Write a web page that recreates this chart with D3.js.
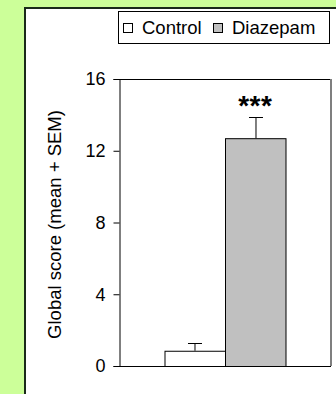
<!DOCTYPE html>
<html>
<head>
<meta charset="utf-8">
<script src="https://cdn.jsdelivr.net/npm/d3@7"></script>
<style>
  html, body { margin: 0; padding: 0; background: #ccff99; }
  svg { display: block; font-family: Arial, "Liberation Sans", sans-serif; }
</style>
</head>
<body>
<div id="chart"></div>
<script>
// Data
const groups = [''];
const series = ['Control', 'Diazepam'];
const means = [0.85, 12.7];
const sems = [0.42, 1.17];
const fills = ['#ffffff', '#c0c0c0'];
const yTicks = [0, 4, 8, 12, 16];
const signif = '***';

const W = 336, H = 394;
const margin = { top: 79, right: 5, bottom: 28, left: 119 };

const svg = d3.select('#chart').append('svg')
  .attr('width', W)
  .attr('height', H);

// white panel with dark left/top edge
svg.append('rect')
  .attr('x', 24).attr('y', 7)
  .attr('width', W - 24).attr('height', H - 7)
  .attr('fill', '#ffffff');
svg.append('path')
  .attr('d', `M25,${H} V8 H${W}`)
  .attr('fill', 'none')
  .attr('stroke', '#1a2a1a')
  .attr('stroke-width', 2);

const y = d3.scaleLinear()
  .domain([0, 16])
  .range([H - margin.bottom, margin.top]);

const x0 = d3.scaleBand()
  .domain(groups)
  .range([margin.left, W - margin.right])
  .paddingInner(0)
  .paddingOuter(0.376);

const x1 = d3.scaleBand()
  .domain(series)
  .range([0, x0.bandwidth()]);

// frame: top black, right grey
svg.append('line')
  .attr('x1', margin.left).attr('x2', W - margin.right)
  .attr('y1', y(16) + 0.5).attr('y2', y(16) + 0.5)
  .attr('stroke', '#000');
svg.append('line')
  .attr('x1', W - margin.right).attr('x2', W - margin.right)
  .attr('y1', y(16)).attr('y2', y(0))
  .attr('stroke', '#7f7f7f')
  .attr('stroke-width', 2);

// bars
const g = svg.append('g').attr('transform', `translate(${x0('')},0)`);
g.selectAll('rect.bar')
  .data(series)
  .enter().append('rect')
  .attr('class', 'bar')
  .attr('x', d => x1(d) + 0.5)
  .attr('y', (d, i) => y(means[i]) + 0.5)
  .attr('width', x1.bandwidth())
  .attr('height', (d, i) => y(0) - y(means[i]))
  .attr('fill', (d, i) => fills[i])
  .attr('stroke', '#000')
  .attr('stroke-width', 1);

// error bars (upper only)
series.forEach((s, i) => {
  const cx = Math.round(x1(s) + x1.bandwidth() / 2) + 0.5;
  const top = y(means[i] + sems[i]);
  g.append('line')
    .attr('x1', cx).attr('x2', cx)
    .attr('y1', y(means[i])).attr('y2', top)
    .attr('stroke', '#000');
  g.append('line')
    .attr('x1', cx - 7).attr('x2', cx + 7)
    .attr('y1', Math.round(top) + 0.5).attr('y2', Math.round(top) + 0.5)
    .attr('stroke', '#000');
});

// significance stars above Diazepam
g.append('text')
  .attr('x', x1('Diazepam') + x1.bandwidth() / 2)
  .attr('y', y(means[1] + sems[1]) - 2)
  .attr('text-anchor', 'middle')
  .attr('font-size', 28)
  .attr('font-weight', 'bold')
  .attr('letter-spacing', 0.5)
  .text(signif);

// y axis
const yAxis = svg.append('g')
  .attr('transform', `translate(${margin.left + 0.5},0)`)
  .call(d3.axisLeft(y).tickValues(yTicks).tickSize(6).tickPadding(8));
yAxis.selectAll('text')
  .attr('font-size', 18)
  .attr('font-family', 'Arial, "Liberation Sans", sans-serif')
  .attr('fill', '#000');
yAxis.selectAll('line, path').attr('stroke', '#000');

// x baseline
svg.append('line')
  .attr('x1', margin.left).attr('x2', W - margin.right)
  .attr('y1', y(0) + 0.5).attr('y2', y(0) + 0.5)
  .attr('stroke', '#000');

// y label
svg.append('text')
  .attr('transform', `translate(61,${(y(0) + y(16)) / 2 + 2}) rotate(-90)`)
  .attr('text-anchor', 'middle')
  .attr('font-size', 18.5)
  .text('Global score (mean + SEM)');

// legend
const legend = svg.append('g');
legend.append('rect')
  .attr('x', 118.5).attr('y', 11.5)
  .attr('width', 211).attr('height', 32)
  .attr('fill', '#fff')
  .attr('stroke', '#000');
const legX = [123, 213];
series.forEach((s, i) => {
  legend.append('rect')
    .attr('x', legX[i] + 0.5).attr('y', 23.5)
    .attr('width', 9).attr('height', 9)
    .attr('fill', fills[i])
    .attr('stroke', '#000');
  legend.append('text')
    .attr('x', legX[i] + 19)
    .attr('y', 34)
    .attr('font-size', 18.5)
    .text(s);
});
</script>
</body>
</html>
